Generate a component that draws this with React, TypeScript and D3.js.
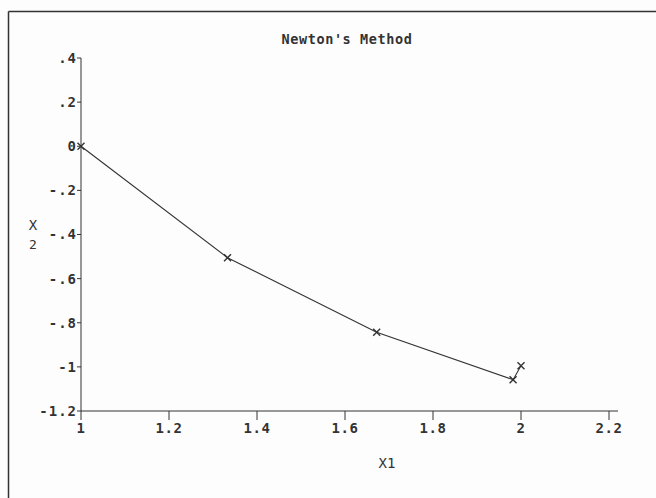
import React from "react";
import * as d3 from "d3";

const x1Values = [1, 1.333, 1.672, 1.982, 2.0];
const x2Values = [0, -0.505, -0.843, -1.058, -0.995];
const xTickValues = [1, 1.2, 1.4, 1.6, 1.8, 2, 2.2];
const xTickLabels = ["1", "1.2", "1.4", "1.6", "1.8", "2", "2.2"];
const yTickValues = [0.4, 0.2, 0, -0.2, -0.4, -0.6, -0.8, -1, -1.2];
const yTickLabels = [".4", ".2", "0", "-.2", "-.4", "-.6", "-.8", "-1", "-1.2"];
const titleText = "Newton's Method";
const xLabel = "X1";

const W = 656;
const H = 498;
const FONT = "'DejaVu Sans Mono', 'Liberation Mono', monospace";
const INK = "#333";

export default function App() {
  const x = d3.scaleLinear().domain([1, 2.2]).range([81, 609]);
  const y = d3.scaleLinear().domain([-1.2, 0.4]).range([411, 58]);
  const pts = x1Values.map((v, i) => [v, x2Values[i]] as [number, number]);
  const line = d3
    .line<[number, number]>()
    .x((d) => x(d[0]))
    .y((d) => y(d[1]));
  const m = 3.5;
  return (
    <div style={{ position: "fixed", left: 0, top: 0, width: W, height: H, background: "#fff" }}>
      <svg width={W} height={H} style={{ display: "block" }}>
        <rect x={0} y={0} width={W} height={H} fill="#fdfdfd" />
        {/* outer frame */}
        <line x1={8.5} y1={11.5} x2={W} y2={11.5} stroke={INK} strokeWidth={1.5} />
        <line x1={8.5} y1={11.5} x2={8.5} y2={H} stroke={INK} strokeWidth={1.5} />
        {/* title */}
        <text x={347} y={44} textAnchor="middle" fontFamily={FONT} fontSize={13.5} fontWeight="600" letterSpacing={0.6} fill={INK}>
          {titleText}
        </text>
        {/* axes */}
        <line x1={x(1)} y1={y(0.4)} x2={x(1)} y2={y(-1.2)} stroke={INK} strokeWidth={1} />
        <line x1={x(1)} y1={y(-1.2)} x2={618} y2={y(-1.2)} stroke={INK} strokeWidth={1} />
        {yTickValues.map((v, i) => (
          <g key={"y" + i}>
            <line x1={x(1) - 4} x2={x(1)} y1={y(v)} y2={y(v)} stroke={INK} strokeWidth={1} />
            <text
              x={x(1) - 4}
              y={y(v)}
              dy="0.35em"
              textAnchor="end"
              fontFamily={FONT}
              fontSize={14}
              fontWeight="600"
              letterSpacing={1}
              fill={INK}
            >
              {yTickLabels[i]}
            </text>
          </g>
        ))}
        {xTickValues.map((v, i) => (
          <g key={"x" + i}>
            <line x1={x(v)} x2={x(v)} y1={y(-1.2)} y2={y(-1.2) + 9} stroke={INK} strokeWidth={1} />
            <text
              x={x(v)}
              y={y(-1.2) + 22}
              textAnchor="middle"
              fontFamily={FONT}
              fontSize={14}
              fontWeight="600"
              letterSpacing={0.5}
              fill={INK}
            >
              {xTickLabels[i]}
            </text>
          </g>
        ))}
        {/* axis labels */}
        <text x={387} y={468} textAnchor="middle" fontFamily={FONT} fontSize={14} fill={INK}>
          {xLabel}
        </text>
        <text x={33} y={230} textAnchor="middle" fontFamily={FONT} fontSize={14} fill={INK}>
          X
        </text>
        <text x={33} y={249} textAnchor="middle" fontFamily={FONT} fontSize={13} fill={INK}>
          2
        </text>
        {/* data */}
        <path d={line(pts) || ""} fill="none" stroke={INK} strokeWidth={1.1} />
        {pts.map((p, i) => (
          <path
            key={"m" + i}
            d={`M${x(p[0]) - m},${y(p[1]) - m}L${x(p[0]) + m},${y(p[1]) + m}M${x(p[0]) - m},${y(p[1]) + m}L${x(p[0]) + m},${y(p[1]) - m}`}
            stroke={INK}
            strokeWidth={1.4}
            fill="none"
          />
        ))}
      </svg>
    </div>
  );
}
